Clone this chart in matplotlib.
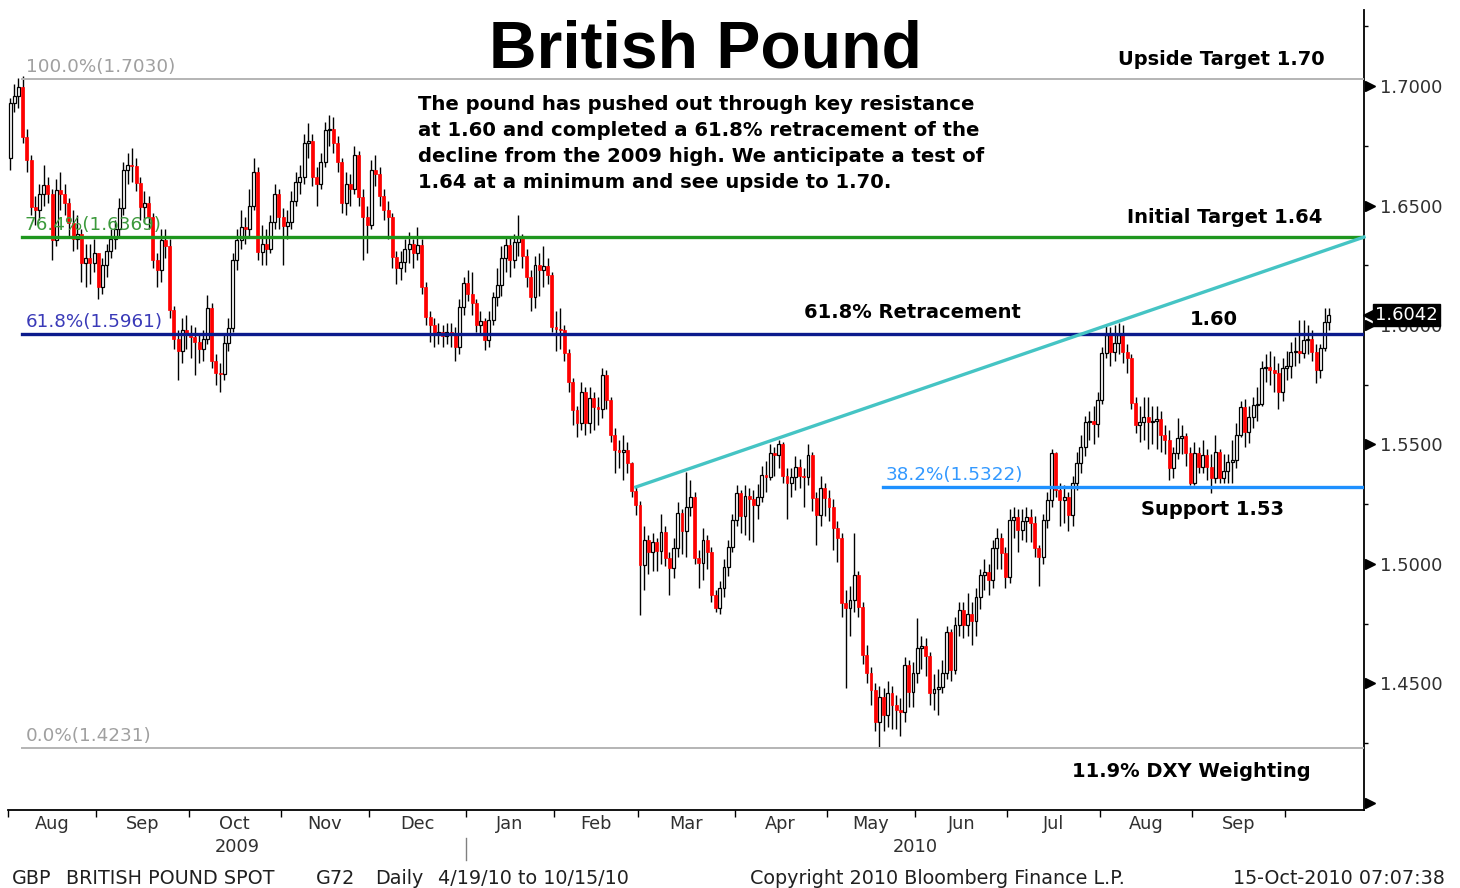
import numpy as np
import pandas as pd
import matplotlib
matplotlib.use('Agg')
import matplotlib.pyplot as plt
import matplotlib.transforms as mtransforms

# ---------------- data ----------------
first_open = 1.6700
closes = [
    1.6930, 1.6960, 1.6995, 1.6787, 1.6690, 1.6494, 1.6480, 1.6550, 1.6585, 1.6550,
    1.6356, 1.6565, 1.6550, 1.6510, 1.6427, 1.6360, 1.6380, 1.6260, 1.6280, 1.6260,
    1.6300, 1.6160, 1.6250, 1.6310, 1.6360, 1.6400, 1.6490, 1.6650, 1.6670, 1.6665,
    1.6594, 1.6495, 1.6510, 1.6450, 1.6270, 1.6230, 1.6356, 1.6330, 1.6063, 1.5940,
    1.5890, 1.5980, 1.5960, 1.5950, 1.5930, 1.5900, 1.5940, 1.6070, 1.5850, 1.5800,
    1.5797, 1.5925, 1.5988, 1.6270, 1.6356, 1.6410, 1.6400, 1.6500, 1.6640, 1.6305,
    1.6340, 1.6320, 1.6430, 1.6550, 1.6450, 1.6415, 1.6430, 1.6520, 1.6600, 1.6620,
    1.6760, 1.6770, 1.6620, 1.6590, 1.6680, 1.6815, 1.6820, 1.6760, 1.6680, 1.6510,
    1.6590, 1.6570, 1.6710, 1.6536, 1.6450, 1.6420, 1.6650, 1.6630, 1.6540, 1.6480,
    1.6450, 1.6285, 1.6240, 1.6265, 1.6320, 1.6340, 1.6300, 1.6335, 1.6160, 1.6034,
    1.6000, 1.5967, 1.5970, 1.5955, 1.5970, 1.5965, 1.5910, 1.6075, 1.6176, 1.6130,
    1.6090, 1.6000, 1.6015, 1.5937, 1.6021, 1.6117, 1.6167, 1.6280, 1.6335, 1.6270,
    1.6347, 1.6364, 1.6290, 1.6200, 1.6117, 1.6250, 1.6230, 1.6245, 1.6210, 1.5990,
    1.5985, 1.5980, 1.5883, 1.5760, 1.5644, 1.5590, 1.5720, 1.5590, 1.5695, 1.5655,
    1.5650, 1.5790, 1.5686, 1.5540, 1.5477, 1.5470, 1.5475, 1.5422, 1.5305, 1.5247,
    1.4995, 1.5100, 1.5050, 1.5090, 1.5055, 1.5134, 1.5025, 1.4983, 1.5067, 1.5213,
    1.5140, 1.5240, 1.5280, 1.5025, 1.5005, 1.5100, 1.5050, 1.4870, 1.4816, 1.4900,
    1.4987, 1.5071, 1.5184, 1.5297, 1.5200, 1.5285, 1.5270, 1.5247, 1.5280, 1.5372,
    1.5365, 1.5464, 1.5455, 1.5500, 1.5370, 1.5340, 1.5364, 1.5406, 1.5370, 1.5365,
    1.5456, 1.5276, 1.5205, 1.5320, 1.5276, 1.5240, 1.5150, 1.5110, 1.4837, 1.4815,
    1.4850, 1.4954, 1.4820, 1.4620, 1.4544, 1.4473, 1.4340, 1.4443, 1.4370, 1.4460,
    1.4410, 1.4390, 1.4380, 1.4577, 1.4464, 1.4544, 1.4649, 1.4655, 1.4616, 1.4460,
    1.4475, 1.4485, 1.4545, 1.4716, 1.4556, 1.4745, 1.4808, 1.4745, 1.4790, 1.4760,
    1.4860, 1.4954, 1.4965, 1.4933, 1.5067, 1.5109, 1.5046, 1.4946, 1.5184, 1.5197,
    1.5142, 1.5180, 1.5197, 1.5170, 1.5067, 1.5030, 1.5184, 1.5268, 1.5464, 1.5310,
    1.5268, 1.5280, 1.5205, 1.5339, 1.5423, 1.5490, 1.5594, 1.5600, 1.5585, 1.5686,
    1.5883, 1.5958, 1.5887, 1.5925, 1.5958, 1.5887, 1.5862, 1.5674, 1.5582, 1.5595,
    1.5615, 1.5594, 1.5600, 1.5605, 1.5540, 1.5520, 1.5402, 1.5464, 1.5527, 1.5535,
    1.5464, 1.5339, 1.5464, 1.5406, 1.5456, 1.5406, 1.5360, 1.5469, 1.5360, 1.5390,
    1.5427, 1.5435, 1.5540, 1.5657, 1.5552, 1.5615, 1.5665, 1.5670, 1.5820, 1.5825,
    1.5810, 1.5800, 1.5720, 1.5820, 1.5830, 1.5887, 1.5890, 1.5883, 1.5937, 1.5940,
    1.5887, 1.5812, 1.5904, 1.6013, 1.6042,
]
highs = [
    1.6950, 1.7010, 1.7035, 1.7043, 1.6820, 1.6710, 1.6540, 1.6590, 1.6670, 1.6620,
    1.6570, 1.6610, 1.6640, 1.6590, 1.6530, 1.6480, 1.6460, 1.6400, 1.6340, 1.6340,
    1.6360, 1.6300, 1.6280, 1.6340, 1.6400, 1.6440, 1.6530, 1.6680, 1.6720, 1.6740,
    1.6700, 1.6620, 1.6560, 1.6540, 1.6470, 1.6300, 1.6400, 1.6400, 1.6360, 1.6080,
    1.5980, 1.6030, 1.6040, 1.6000, 1.5990, 1.5960, 1.5980, 1.6125, 1.6090, 1.5880,
    1.5840, 1.5960, 1.6030, 1.6300, 1.6400, 1.6480, 1.6450, 1.6570, 1.6700, 1.6660,
    1.6420, 1.6400, 1.6460, 1.6590, 1.6570, 1.6490, 1.6480, 1.6560, 1.6640, 1.6670,
    1.6800, 1.6845, 1.6800, 1.6660, 1.6720, 1.6850, 1.6880, 1.6870, 1.6790, 1.6700,
    1.6640, 1.6630, 1.6750, 1.6730, 1.6570, 1.6500, 1.6690, 1.6710, 1.6660, 1.6570,
    1.6520, 1.6470, 1.6310, 1.6310, 1.6360, 1.6390, 1.6360, 1.6410, 1.6360, 1.6180,
    1.6060, 1.6030, 1.6010, 1.6000, 1.6010, 1.6010, 1.5990, 1.6110, 1.6200, 1.6230,
    1.6220, 1.6110, 1.6060, 1.6030, 1.6060, 1.6140, 1.6240, 1.6330, 1.6370, 1.6370,
    1.6380, 1.6460, 1.6380, 1.6320, 1.6230, 1.6290, 1.6300, 1.6330, 1.6280, 1.6220,
    1.6060, 1.6070, 1.6000, 1.5900, 1.5780, 1.5660, 1.5760, 1.5740, 1.5740, 1.5720,
    1.5700, 1.5820, 1.5810, 1.5700, 1.5570, 1.5520, 1.5540, 1.5510, 1.5425, 1.5322,
    1.5265, 1.5160, 1.5120, 1.5130, 1.5110, 1.5210, 1.5160, 1.5050, 1.5110, 1.5260,
    1.5230, 1.5385, 1.5350, 1.5300, 1.5060, 1.5150, 1.5120, 1.5070, 1.4890, 1.4930,
    1.5020, 1.5100, 1.5210, 1.5330, 1.5310, 1.5330, 1.5320, 1.5310, 1.5335, 1.5410,
    1.5430, 1.5500, 1.5490, 1.5519, 1.5510, 1.5400, 1.5400, 1.5450, 1.5440, 1.5400,
    1.5500, 1.5470, 1.5300, 1.5370, 1.5340, 1.5310, 1.5270, 1.5180, 1.5130, 1.4890,
    1.4910, 1.5130, 1.4970, 1.4840, 1.4660, 1.4570, 1.4500, 1.4490, 1.4480, 1.4510,
    1.4490, 1.4450, 1.4440, 1.4610, 1.4600, 1.4590, 1.4774, 1.4700, 1.4690, 1.4630,
    1.4540, 1.4560, 1.4600, 1.4740, 1.4730, 1.4780, 1.4840, 1.4840, 1.4880, 1.4840,
    1.4900, 1.4980, 1.5020, 1.5000, 1.5100, 1.5150, 1.5130, 1.5070, 1.5230, 1.5240,
    1.5230, 1.5230, 1.5240, 1.5230, 1.5200, 1.5080, 1.5210, 1.5300, 1.5480, 1.5470,
    1.5340, 1.5330, 1.5300, 1.5370, 1.5470, 1.5540, 1.5620, 1.5640, 1.5660, 1.5720,
    1.5910, 1.6000, 1.5990, 1.6000, 1.6008, 1.6000, 1.5920, 1.5880, 1.5700, 1.5660,
    1.5700, 1.5700, 1.5660, 1.5660, 1.5640, 1.5580, 1.5560, 1.5490, 1.5610, 1.5580,
    1.5550, 1.5490, 1.5510, 1.5490, 1.5520, 1.5480, 1.5460, 1.5540, 1.5480, 1.5460,
    1.5460, 1.5520, 1.5590, 1.5680, 1.5690, 1.5660, 1.5700, 1.5740, 1.5850, 1.5880,
    1.5890, 1.5870, 1.5840, 1.5860, 1.5890, 1.5930, 1.5950, 1.6020, 1.6020, 1.6000,
    1.5980, 1.5920, 1.5920, 1.6070, 1.6070,
]
lows = [
    1.6650, 1.6890, 1.6910, 1.6760, 1.6640, 1.6460, 1.6420, 1.6440, 1.6500, 1.6510,
    1.6270, 1.6330, 1.6480, 1.6460, 1.6370, 1.6310, 1.6320, 1.6180, 1.6160, 1.6170,
    1.6220, 1.6110, 1.6130, 1.6200, 1.6280, 1.6320, 1.6370, 1.6460, 1.6590, 1.6600,
    1.6560, 1.6440, 1.6430, 1.6400, 1.6240, 1.6160, 1.6180, 1.6280, 1.6030, 1.5900,
    1.5770, 1.5840, 1.5900, 1.5860, 1.5790, 1.5840, 1.5850, 1.5920, 1.5820, 1.5750,
    1.5720, 1.5770, 1.5890, 1.5970, 1.6230, 1.6320, 1.6340, 1.6370, 1.6480, 1.6270,
    1.6250, 1.6250, 1.6300, 1.6400, 1.6400, 1.6250, 1.6360, 1.6400, 1.6500, 1.6550,
    1.6590, 1.6700, 1.6580, 1.6500, 1.6570, 1.6660, 1.6750, 1.6720, 1.6640, 1.6470,
    1.6460, 1.6500, 1.6550, 1.6500, 1.6270, 1.6300, 1.6400, 1.6580, 1.6500, 1.6440,
    1.6360, 1.6240, 1.6170, 1.6190, 1.6220, 1.6260, 1.6240, 1.6270, 1.6130, 1.6000,
    1.5930, 1.5910, 1.5920, 1.5910, 1.5920, 1.5910, 1.5850, 1.5880, 1.6040, 1.6100,
    1.6040, 1.5970, 1.5960, 1.5895, 1.5910, 1.6000, 1.6080, 1.6120, 1.6220, 1.6200,
    1.6240, 1.6290, 1.6240, 1.6160, 1.6060, 1.6070, 1.6120, 1.6160, 1.6170, 1.5970,
    1.5890, 1.5900, 1.5850, 1.5720, 1.5580, 1.5530, 1.5560, 1.5540, 1.5550, 1.5560,
    1.5580, 1.5610, 1.5650, 1.5510, 1.5380, 1.5400, 1.5350, 1.5380, 1.5280, 1.5205,
    1.4787, 1.4890, 1.4960, 1.4970, 1.4970, 1.5000, 1.4990, 1.4870, 1.4940, 1.5030,
    1.5040, 1.5030, 1.5200, 1.5000, 1.4900, 1.4933, 1.4980, 1.4840, 1.4800, 1.4790,
    1.4860, 1.4950, 1.5050, 1.5160, 1.5130, 1.5120, 1.5100, 1.5090, 1.5190, 1.5260,
    1.5300, 1.5350, 1.5370, 1.5400, 1.5340, 1.5190, 1.5280, 1.5310, 1.5320, 1.5240,
    1.5330, 1.5220, 1.5080, 1.5160, 1.5200, 1.5180, 1.5060, 1.5010, 1.4780, 1.4480,
    1.4700, 1.4800, 1.4780, 1.4580, 1.4500, 1.4410, 1.4300, 1.4231, 1.4300, 1.4320,
    1.4310, 1.4310, 1.4280, 1.4340, 1.4400, 1.4400, 1.4500, 1.4560, 1.4530, 1.4410,
    1.4390, 1.4370, 1.4460, 1.4520, 1.4510, 1.4540, 1.4700, 1.4690, 1.4700, 1.4660,
    1.4700, 1.4810, 1.4890, 1.4870, 1.4900, 1.4980, 1.4980, 1.4900, 1.4920, 1.5110,
    1.5050, 1.5100, 1.5090, 1.5090, 1.5030, 1.4910, 1.5000, 1.5150, 1.5240, 1.5280,
    1.5160, 1.5170, 1.5140, 1.5160, 1.5310, 1.5380, 1.5450, 1.5520, 1.5500, 1.5530,
    1.5670, 1.5860, 1.5830, 1.5850, 1.5880, 1.5840, 1.5800, 1.5650, 1.5550, 1.5510,
    1.5520, 1.5480, 1.5500, 1.5480, 1.5470, 1.5460, 1.5350, 1.5360, 1.5440, 1.5460,
    1.5410, 1.5330, 1.5330, 1.5380, 1.5380, 1.5350, 1.5297, 1.5340, 1.5340, 1.5340,
    1.5340, 1.5340, 1.5400, 1.5530, 1.5490, 1.5506, 1.5570, 1.5600, 1.5660, 1.5760,
    1.5750, 1.5720, 1.5650, 1.5680, 1.5770, 1.5780, 1.5830, 1.5840, 1.5860, 1.5880,
    1.5850, 1.5757, 1.5780, 1.5890, 1.5980,
]

start_date = '2009-08-03'
end_date = '2010-10-15'

fib_labels = ['100.0%(1.7030)', '76.4%(1.6369)', '61.8%(1.5961)', '38.2%(1.5322)', '0.0%(1.4231)']
fib_levels = [1.7030, 1.6369, 1.5961, 1.5322, 1.4231]

trend_idx = [149, 322.4]
trend_px = [1.5322, 1.6368]

price_ticks = [1.40, 1.45, 1.50, 1.55, 1.60, 1.65, 1.70]
minor_ticks = [1.425, 1.475, 1.525, 1.575, 1.625, 1.675, 1.725]
last_price = 1.6042

annotation_lines = [
    'The pound has pushed out through key resistance',
    'at 1.60 and completed a 61.8% retracement of the',
    'decline from the 2009 high. We anticipate a test of',
    '1.64 at a minimum and see upside to 1.70.',
]

# ---------------- figure ----------------
plt.rcParams['font.family'] = ['DejaVu Sans']
W, H = 1460, 888
fig = plt.figure(figsize=(W / 100, H / 100), dpi=100)
fig.patch.set_facecolor('white')

def fxp(x):
    return x / W

def fyp(y):
    return 1 - y / H

AX_L, AX_R, AX_T, AX_B = 8, 1364, 10, 810
ax = fig.add_axes([fxp(AX_L), fyp(AX_B), (AX_R - AX_L) / W, (AX_B - AX_T) / H])

c = np.array(closes)
h = np.array(highs)
l = np.array(lows)
o = np.concatenate([[first_open], c[:-1]])
h = np.maximum(h, np.maximum(o, c))
l = np.minimum(l, np.minimum(o, c))
dates = pd.bdate_range(start_date, end_date)
idx = np.arange(len(c))

XMIN, XMAX = -0.48, 322.4
YMIN, YMAX = 1.39707, 1.7318
ax.set_xlim(XMIN, XMAX)
ax.set_ylim(YMIN, YMAX)

def axfrac(xp):
    return (xp - AX_L) / (AX_R - AX_L)

# candles
up = c >= o
ax.vlines(idx, l, h, color='black', lw=1.0, zorder=2)
ax.bar(idx[up], (c - o)[up], bottom=o[up], width=0.7, color='white',
       edgecolor='black', linewidth=0.9, zorder=3)
ax.bar(idx[~up], (o - c)[~up], bottom=c[~up], width=0.7, color='#ff0000',
       edgecolor='#ff0000', linewidth=0.5, zorder=3)

# fibonacci lines
fib_colors = ['#b4b4b4', '#1e961e', '#0b1a8c', '#1e90ff', '#b4b4b4']
fib_text_colors = ['#a0a0a0', '#3c9a3c', '#3a3ab8', '#3399ff', '#a0a0a0']
fib_lw = [1.4, 2.4, 2.4, 2.4, 1.4]
fib_xstart = [22, 22, 22, 883, 22]
fib_textx = [26, 24, 26, 886, 26]
trans_yd = mtransforms.blended_transform_factory(ax.transAxes, ax.transData)
for lab, lev, col, tcol, lw, xs, tx in zip(fib_labels, fib_levels, fib_colors,
                                             fib_text_colors, fib_lw, fib_xstart, fib_textx):
    ax.axhline(lev, xmin=axfrac(xs), xmax=1.0, color=col, lw=lw, zorder=4)
    ax.annotate(lab, xy=(axfrac(tx), lev), xycoords=trans_yd, xytext=(0, 12),
                textcoords='offset pixels', ha='left', va='center',
                fontsize=13.2, color=tcol, zorder=5)

# trend line
ax.plot(trend_idx, trend_px, color='#45c4c4', lw=2.4, zorder=4, clip_on=False)

# spines
for s in ['left', 'top']:
    ax.spines[s].set_visible(False)
for s in ['right', 'bottom']:
    ax.spines[s].set_linewidth(1.3)
    ax.spines[s].set_color('black')

# y axis on the right
ax.yaxis.tick_right()
ax.set_yticks(price_ticks)
ax.set_yticklabels(['' if p < 1.42 else f'{p:.4f}' for p in price_ticks])
ax.tick_params(axis='y', which='major', length=0, pad=11.5, labelsize=13,
               labelcolor='#303030')
ax.set_yticks(minor_ticks, minor=True)
ax.tick_params(axis='y', which='minor', length=3, width=1, direction='out', color='black')
ax.plot([1 + 6 / (AX_R - AX_L)] * len(price_ticks), price_ticks, linestyle='none',
        marker='>', markersize=7, color='black', transform=trans_yd, clip_on=False, zorder=6)

# last price tag (covers most of the 1.6000 label, as in the original)
ax.text(1 + 11 / (AX_R - AX_L), last_price, f'{last_price:.4f}', transform=trans_yd,
        ha='left', va='center', fontsize=13, color='white', zorder=8,
        bbox=dict(boxstyle='square,pad=0.12', fc='black', ec='black'))
ax.plot([1 + 5 / (AX_R - AX_L)], [last_price], marker='<', markersize=8, color='black',
        transform=trans_yd, clip_on=False, zorder=8, linestyle='none')

# x axis: month ticks
month_starts = [i for i in range(1, len(dates)) if dates[i].month != dates[i - 1].month]
bounds = [-0.5] + [i - 0.5 for i in month_starts]
ax.set_xticks(bounds)
ax.set_xticklabels([])
ax.tick_params(axis='x', which='major', length=5, width=1, direction='out', color='black')
centers = [(bounds[k] + bounds[k + 1]) / 2 for k in range(len(bounds) - 1)]
names = [dates[month_starts[k] - 1].strftime('%b') for k in range(len(month_starts))]
ax.set_xticks(centers, minor=True)
ax.set_xticklabels(names, minor=True)
ax.tick_params(axis='x', which='minor', length=0, pad=3.5, labelsize=12.8,
               labelcolor='#303030')

xtrans = mtransforms.blended_transform_factory(ax.transData, ax.transAxes)
year_break = [b for b, i in zip(bounds[1:], month_starts) if dates[i].year != dates[i - 1].year][0]
ax.text((bounds[0] + year_break) / 2, -0.046, str(dates[0].year), transform=xtrans,
        ha='center', va='center', fontsize=12.8, color='#303030')
ax.text((year_break + XMAX) / 2, -0.046, str(dates[-1].year), transform=xtrans,
        ha='center', va='center', fontsize=12.8, color='#303030')
ax.plot([year_break, year_break], [-0.035, -0.0625], transform=xtrans, clip_on=False,
        color='#808080', lw=1)

# ---------------- texts ----------------
fig.text(fxp(705), fyp(67), 'British Pound', ha='center', va='baseline',
         fontsize=47.5, fontweight='bold', family='Liberation Sans', color='black')

for k, line in enumerate(annotation_lines):
    fig.text(fxp(418), fyp(110 + 26 * k), line, ha='left', va='baseline',
             fontsize=14.1, fontweight='bold', color='black')

bold_labels = [
    (1118, 65, 'Upside Target 1.70'),
    (1127, 223, 'Initial Target 1.64'),
    (804, 318, '61.8% Retracement'),
    (1190, 325, '1.60'),
    (1141, 515, 'Support 1.53'),
    (1072, 777, '11.9% DXY Weighting'),
]
for x, y, s in bold_labels:
    fig.text(fxp(x), fyp(y), s, ha='left', va='baseline', fontsize=14,
             fontweight='bold', color='black')

footer = [
    (12, 'GBP'), (66, 'BRITISH POUND SPOT'), (316, 'G72'), (375, 'Daily'),
    (438, '4/19/10 to 10/15/10'), (750, 'Copyright 2010 Bloomberg Finance L.P.'),
]
for x, s in footer:
    fig.text(fxp(x), fyp(884), s, ha='left', va='baseline', fontsize=13.8, color='#202020')
fig.text(fxp(1445), fyp(884), '15-Oct-2010 07:07:38', ha='right', va='baseline',
         fontsize=13.8, color='#202020')

fig.savefig('out.png', dpi=100, facecolor='white')
